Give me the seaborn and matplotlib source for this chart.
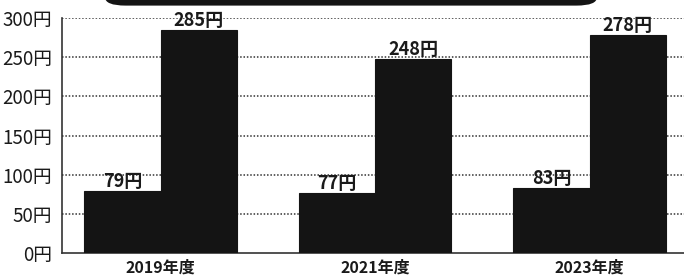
import numpy as np
import pandas as pd
import matplotlib
matplotlib.use("Agg")
import matplotlib.pyplot as plt
from matplotlib.patches import FancyBboxPatch
import seaborn as sns

# データ
years = ["2019年度", "2021年度", "2023年度"]
series = ["前", "後"]
low_vals = [79, 77, 83]
high_vals = [285, 248, 278]
yticks = [0, 50, 100, 150, 200, 250, 300]

df = pd.DataFrame({
    "year": years * 2,
    "series": [series[0]] * 3 + [series[1]] * 3,
    "value": low_vals + high_vals,
})

sns.set_style("white")
plt.rcParams["font.family"] = ["Noto Sans CJK JP", "DejaVu Sans"]

fig = plt.figure(figsize=(6.84, 2.8), dpi=100)
ax = fig.add_axes([0.0906, 0.0964, 0.9094, 0.8393])

sns.barplot(data=df, x="year", y="value", hue="series",
            palette=["#141414", "#141414"], width=0.71,
            saturation=1, legend=False, ax=ax, zorder=3,
            linewidth=0.8, edgecolor="#141414")

for c in ax.containers:
    labels = [f"{int(v)}円" for v in c.datavalues]
    ax.bar_label(c, labels=labels, padding=0, fontsize=13,
                 fontweight="bold", color="#1a1a1a")

ax.set_ylim(0, 300)
ax.set_xlim(-0.46, 2.44)
ax.set_yticks(yticks)
ax.set_yticklabels([f"{v}円" for v in yticks], fontsize=13.5,
                   color="#1a1a1a")
ax.set_xticks(range(3))
ax.set_xticklabels(years, fontsize=11.5, fontweight="bold", color="#1a1a1a")
ax.set_xticks([0.5, 1.5], minor=True)
ax.tick_params(axis="y", which="major", length=0, pad=7)
ax.tick_params(axis="x", which="major", length=0, pad=5)
ax.tick_params(axis="x", which="minor", direction="in", length=4, width=1, color="#333333")
ax.set_xlabel("")
ax.set_ylabel("")

for y in yticks[1:]:
    ax.axhline(y, color="#333333", linestyle=(0, (1, 1.2)), lw=1.1, zorder=1)

for s in ["top", "right"]:
    ax.spines[s].set_visible(False)
for s in ["left", "bottom"]:
    ax.spines[s].set_color("#333333")
    ax.spines[s].set_linewidth(1.2)

# 上部のタイトル帯(切れている)
banner = FancyBboxPatch((105 / 684, 0.98), 492 / 684, 0.1,
                        boxstyle="round,pad=0,rounding_size=0.03",
                        transform=fig.transFigure, facecolor="#141414",
                        edgecolor="none", clip_on=False)
fig.patches.append(banner)

fig.savefig("out.png", dpi=100)
